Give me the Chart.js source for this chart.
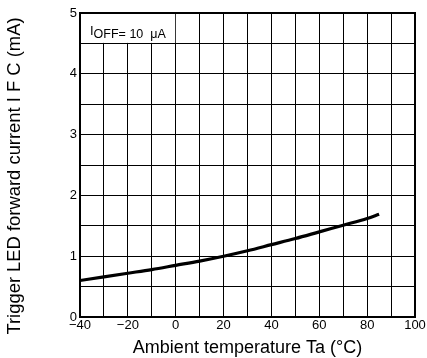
<!DOCTYPE html>
<html><head><meta charset="utf-8">
<script src="https://cdn.jsdelivr.net/npm/chart.js@4/dist/chart.umd.min.js"></script>
<style>html,body{margin:0;padding:0;background:#fff}#wrap{width:427px;height:358px;position:relative}</style>
</head><body><div id="wrap"><canvas id="c" width="427" height="358"></canvas></div>
<script>
const temperatures = [-40, -30, -20, -10, 0, 10, 20, 30, 40, 50, 60, 70, 80, 85];
const currentIFC = [0.60, 0.66, 0.72, 0.78, 0.85, 0.92, 1.00, 1.09, 1.19, 1.29, 1.40, 1.51, 1.62, 1.69];
const xTickLabels = ['−40', '−20', '0', '20', '40', '60', '80', '100'];
const yTickLabels = ['0', '1', '2', '3', '4', '5'];
const xTitle = 'Ambient temperature Ta (°C)';
const yTitle = 'Trigger LED forward current I F C (mA)';
const conditionMain = 'I';
const conditionSub = 'OFF';
const conditionRest = '= 10  μA';

const FONT = 'Liberation Sans, Arial, sans-serif';

const boxPlugin = {
  id: 'condBox',
  beforeDatasetsDraw(chart) {
    const {ctx, scales: {x, y}} = chart;
    const l = x.getPixelForValue(-40), r = x.getPixelForValue(0);
    const t = y.getPixelForValue(5), b = y.getPixelForValue(4.5);
    ctx.save();
    ctx.fillStyle = '#fff';
    ctx.fillRect(l + 1, t + 1, r - l - 1.5, b - t - 1.5);
    ctx.fillStyle = '#000';
    ctx.textBaseline = 'alphabetic';
    let px = l + 10;
    ctx.font = '13px ' + FONT;
    ctx.fillText(conditionMain, px, t + 22);
    px += ctx.measureText(conditionMain).width;
    ctx.font = '12.5px ' + FONT;
    ctx.fillText(conditionSub, px, t + 25);
    px += ctx.measureText(conditionSub).width;
    ctx.fillText(conditionRest, px, t + 25);
    ctx.restore();
  },
  afterDatasetsDraw(chart) {
    const {ctx, chartArea: a} = chart;
    ctx.save();
    ctx.strokeStyle = '#000';
    ctx.lineWidth = 2;
    ctx.strokeRect(a.left, a.top, a.right - a.left, a.bottom - a.top);
    // y-axis title
    ctx.translate(15, 176);
    ctx.rotate(-Math.PI / 2);
    ctx.fillStyle = '#000';
    ctx.font = '18.4px ' + FONT;
    ctx.textAlign = 'center';
    ctx.textBaseline = 'middle';
    ctx.fillText(yTitle, 0, 0);
    ctx.restore();
  }
};

new Chart(document.getElementById('c'), {
  type: 'line',
  data: {
    labels: temperatures,
    datasets: [{
      data: temperatures.map((t, i) => ({x: t, y: currentIFC[i]})),
      borderColor: '#000',
      borderWidth: 3.2,
      pointRadius: 0,
      cubicInterpolationMode: 'monotone',
      fill: false
    }]
  },
  options: {
    responsive: false,
    animation: false,
    devicePixelRatio: 1,
    layout: {padding: {top: 13, right: 12, left: 0, bottom: 0}},
    plugins: {legend: {display: false}, tooltip: {enabled: false}},
    scales: {
      x: {
        type: 'linear', min: -40, max: 100,
        ticks: {
          stepSize: 10, autoSkip: false, maxRotation: 0,
          color: '#000', font: {family: FONT, size: 13}, padding: 1,
          callback: (v) => { const i = (v + 40) / 20; return Number.isInteger(i) ? xTickLabels[i] : ''; }
        },
        grid: {color: '#000', lineWidth: 1, drawTicks: false},
        border: {display: false},
        title: {display: true, text: xTitle, color: '#000', font: {family: FONT, size: 18, lineHeight: 1.1}, padding: {top: 0, bottom: 0}},
        afterFit(s) { s.height = 41; }
      },
      y: {
        type: 'linear', min: 0, max: 5,
        ticks: {
          stepSize: 0.5, autoSkip: false,
          color: '#000', font: {family: FONT, size: 13}, padding: 3,
          callback: (v) => Number.isInteger(v) ? yTickLabels[v] : ''
        },
        grid: {color: '#000', lineWidth: 1, drawTicks: false},
        border: {display: false},
        afterFit(s) { s.width = 80; }
      }
    }
  },
  plugins: [boxPlugin]
});
</script></body></html>
